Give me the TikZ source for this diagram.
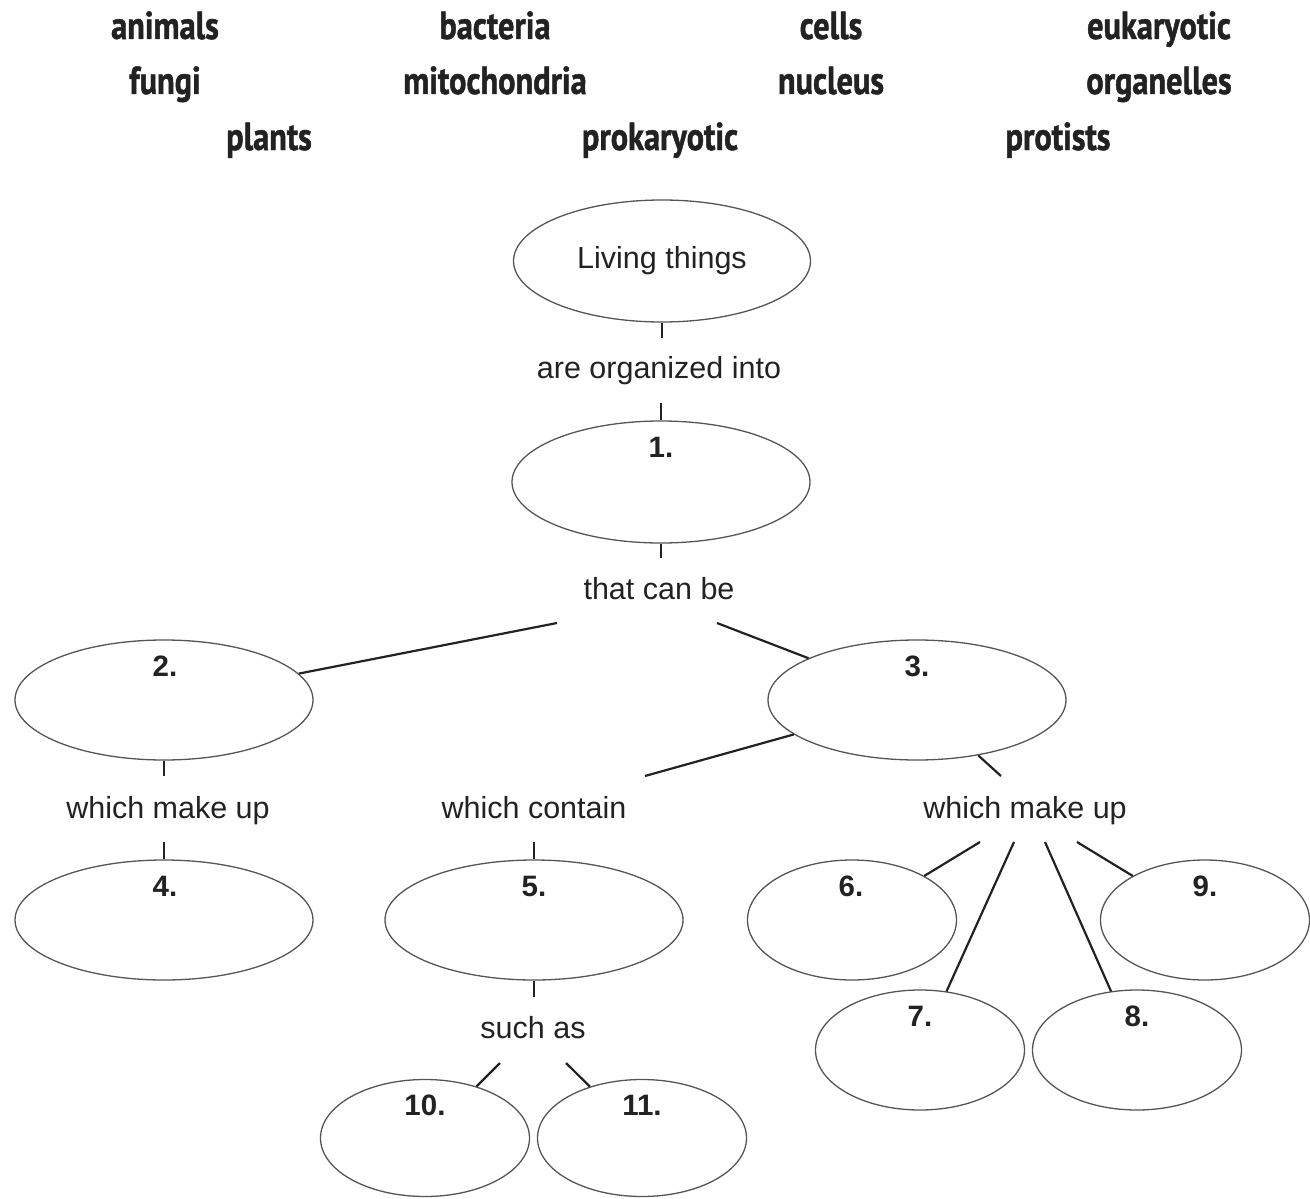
\documentclass[tikz,border=0pt]{standalone}
\usepackage{fontspec}
\setmainfont{Liberation Sans}
\newfontfamily\bankfont[FakeStretch=0.83,FakeBold=1.2]{PT Sans}
\usetikzlibrary{shapes.geometric}
\definecolor{ink}{HTML}{222222}
\definecolor{ovalc}{HTML}{555555}
\tikzset{
  lbl/.style={font=\fontsize{30.5}{36}\selectfont, text=ink, inner sep=0pt},
  num/.style={font=\fontsize{29.5}{34}\selectfont\bfseries, text=ink, inner sep=0pt, anchor=base},
  bank/.style={font=\bankfont\bfseries\fontsize{39}{46}\selectfont, text=ink, inner sep=0pt, anchor=base},
  oval/.style={ellipse, draw=ovalc, line width=1.3pt, inner sep=0pt},
  big/.style={oval, minimum width=298pt, minimum height=120pt},
  small/.style={oval, minimum width=209pt, minimum height=120pt},
  conn/.style={draw=ink, line width=2.2pt}
}
\begin{document}
\begin{tikzpicture}[x=1pt,y=-1pt]
\useasboundingbox (0,0) rectangle (1310,1199);
% word bank
\node[bank] (w1) at (165,39) {animals};
\node[bank] (w2) at (495,39) {bacteria};
\node[bank] (w3) at (831,39) {cells};
\node[bank] (w4) at (1159,39) {eukaryotic};
\node[bank] (w5) at (165,94) {fungi};
\node[bank] (w6) at (495,94) {mitochondria};
\node[bank] (w7) at (831,94) {nucleus};
\node[bank] (w8) at (1159,94) {organelles};
\node[bank] (w9) at (269,150) {plants};
\node[bank] (w10) at (660,150) {prokaryotic};
\node[bank] (w11) at (1058,150) {protists};
% ellipses
\node[oval, lbl, minimum width=297pt, minimum height=122pt] (lt) at (662,261) {Living things};
\node[big, minimum height=122pt] (e1) at (661,482) {};
\node[big] (e2) at (164,700) {};
\node[big] (e3) at (917,700) {};
\node[big] (e4) at (164,920) {};
\node[big] (e5) at (534,920) {};
\node[small] (e6) at (852,920) {};
\node[small] (e9) at (1205,920) {};
\node[small] (e7) at (920,1050) {};
\node[small] (e8) at (1137,1050) {};
\node[small, minimum height=117pt] (e10) at (425,1138) {};
\node[small, minimum height=117pt] (e11) at (642,1138) {};
% numbers
\node[num] (n1) at (661,457) {1.};
\node[num] (n2) at (165,676) {2.};
\node[num] (n3) at (917,676) {3.};
\node[num] (n4) at (165,896) {4.};
\node[num] (n5) at (534,896) {5.};
\node[num] (n6) at (851,896) {6.};
\node[num] (n9) at (1205,896) {9.};
\node[num] (n7) at (920,1026) {7.};
\node[num] (n8) at (1137,1026) {8.};
\node[num] (n10) at (425,1115) {10.};
\node[num] (n11) at (642,1115) {11.};
% linking phrases
\node[lbl, anchor=base] (l1) at (659,378) {are organized into};
\node[lbl, anchor=base] (l2) at (659,599) {that can be};
\node[lbl, anchor=base] (l3) at (168,818) {which make up};
\node[lbl, anchor=base] (l4) at (534,818) {which contain};
\node[lbl, anchor=base] (l5) at (1025,818) {which make up};
\node[lbl, anchor=base] (l6) at (533,1038) {such as};
% connector ends
\coordinate (ca) at (662,338);
\coordinate (cb) at (661,403);
\coordinate (cc) at (661,558);
\coordinate (cd) at (557,623);
\coordinate (ce) at (717,623);
\coordinate (cf) at (164,776);
\coordinate (cg) at (164,842);
\coordinate (ch) at (645,776);
\coordinate (ci) at (1001,776);
\coordinate (cj) at (534,842);
\coordinate (ck) at (534,997);
\coordinate (cl) at (500,1063);
\coordinate (cm) at (566,1063);
\coordinate (cn) at (980,842);
\coordinate (co) at (1014,842);
\coordinate (cp) at (1045,842);
\coordinate (cq) at (1077,842);
% connectors
\draw[conn] (lt) -- (ca);
\draw[conn] (cb) -- (e1);
\draw[conn] (e1) -- (cc);
\draw[conn] (cd) -- (e2);
\draw[conn] (ce) -- (e3);
\draw[conn] (e2) -- (cf);
\draw[conn] (cg) -- (e4);
\draw[conn] (e3) -- (ch);
\draw[conn] (e3) -- (ci);
\draw[conn] (cj) -- (e5);
\draw[conn] (e5) -- (ck);
\draw[conn] (cl) -- (e10);
\draw[conn] (cm) -- (e11);
\draw[conn] (cn) -- (e6);
\draw[conn] (co) -- (e7);
\draw[conn] (cp) -- (e8);
\draw[conn] (cq) -- (e9);
\end{tikzpicture}
\end{document}
